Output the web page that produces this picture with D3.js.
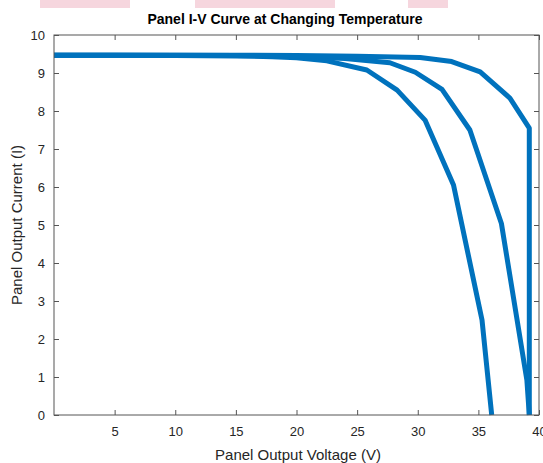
<!DOCTYPE html>
<html>
<head>
<meta charset="utf-8">
<style>
  body { margin: 0; background: #fff; }
  text { font-family: "Liberation Sans", Arial, sans-serif; fill: #262626; }
</style>
</head>
<body>
<svg width="543" height="463"></svg>
<script src="https://d3js.org/d3.v7.min.js"></script>
<script>
// three temperatures, voltage (V) vs current (I)
var v1 = [0, 5, 10, 15, 18, 20, 22.5, 25.8, 28.3, 30.6, 32.95, 35.3, 36.1];
var i1 = [9.47, 9.47, 9.46, 9.45, 9.43, 9.4, 9.32, 9.08, 8.55, 7.76, 6.05, 2.5, 0];
var v2 = [0, 5, 10, 15, 20, 24, 27.7, 29.8, 32.0, 34.3, 36.9, 39.0, 39.2];
var i2 = [9.47, 9.47, 9.47, 9.46, 9.44, 9.38, 9.27, 9.02, 8.57, 7.5, 5.04, 0.92, 0];
var v3 = [0, 5, 10, 15, 20, 25, 30.2, 32.8, 35.15, 37.6, 39.2, 39.2];
var i3 = [9.47, 9.47, 9.47, 9.47, 9.46, 9.44, 9.41, 9.3, 9.03, 8.34, 7.55, 0];
var xTicks = [5, 10, 15, 20, 25, 30, 35, 40];
var yTicks = [0, 1, 2, 3, 4, 5, 6, 7, 8, 9, 10];

var svg = d3.select("svg");
var margin = {top: 35, right: 4, bottom: 48, left: 54};
var width = +svg.attr("width") - margin.left - margin.right;
var height = +svg.attr("height") - margin.top - margin.bottom;

// faint pink marks along the top edge of the source picture
[[40, 90], [195, 140], [408, 40]].forEach(function(r) {
  svg.append("rect").attr("x", r[0]).attr("y", 0).attr("width", r[1]).attr("height", 8)
    .attr("fill", "#f6d6de");
});

var chart = svg.append("g")
  .attr("transform", "translate(" + margin.left + "," + margin.top + ")");

var x = d3.scaleLinear().domain([0, 40]).range([0, width]);
var y = d3.scaleLinear().domain([0, 10]).range([height, 0]);

var line = d3.line()
  .x(function(d) { return x(d[0]); })
  .y(function(d) { return y(d[1]); });

[[v1, i1], [v2, i2], [v3, i3]].forEach(function(s) {
  chart.append("path")
    .datum(d3.zip(s[0], s[1]))
    .attr("fill", "none")
    .attr("stroke", "#0072BD")
    .attr("stroke-width", 5)
    .attr("stroke-linejoin", "round")
    .attr("d", line);
});

// axes, MATLAB style box with inward ticks
function styleAxis(g) {
  g.select(".domain").remove();
  g.selectAll("line").attr("stroke", "#555");
  g.selectAll("text").attr("fill", "#262626").style("font-size", "13px")
    .style("font-family", "'Liberation Sans', Arial, sans-serif");
}

chart.append("g")
  .attr("transform", "translate(0," + height + ")")
  .call(d3.axisBottom(x).tickValues(xTicks).tickSizeInner(-5).tickPadding(12))
  .call(styleAxis);

chart.append("g")
  .call(d3.axisLeft(y).tickValues(yTicks).tickSizeInner(-5).tickPadding(9))
  .call(styleAxis);

chart.append("g")
  .call(d3.axisTop(x).tickValues(xTicks).tickSizeInner(-5).tickFormat(""))
  .call(styleAxis);

chart.append("g")
  .attr("transform", "translate(" + width + ",0)")
  .call(d3.axisRight(y).tickValues(yTicks).tickSizeInner(-5).tickFormat(""))
  .call(styleAxis);

chart.append("rect")
  .attr("width", width).attr("height", height)
  .attr("fill", "none").attr("stroke", "#555").attr("stroke-width", 1);

svg.append("text")
  .attr("x", 285).attr("y", 24)
  .attr("text-anchor", "middle")
  .style("font-size", "14px").style("font-weight", "bold")
  .style("fill", "#000")
  .text("Panel I-V Curve at Changing Temperature");

svg.append("text")
  .attr("x", 298).attr("y", 460)
  .attr("text-anchor", "middle")
  .style("font-size", "15px")
  .text("Panel Output Voltage (V)");

svg.append("text")
  .attr("transform", "translate(22," + (margin.top + height / 2) + ") rotate(-90)")
  .attr("text-anchor", "middle")
  .style("font-size", "15px")
  .text("Panel Output Current (I)");
</script>
</body>
</html>
